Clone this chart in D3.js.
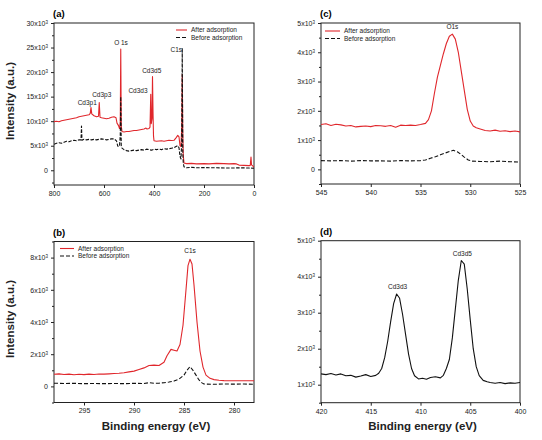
<!DOCTYPE html>
<html><head><meta charset="utf-8">
<script src="https://cdn.jsdelivr.net/npm/d3@7"></script>
<style>body{margin:0;background:#fff}svg{display:block}text{font-family:"Liberation Sans",Arial,sans-serif}</style>
</head><body>
<svg id="chart" width="542" height="440"></svg>
<script>
// ---------- DATA ----------
// Panel (a) survey spectrum: binding energy (eV) / intensity (counts)
const surveyAfterE = [800,790,780,770,760,750,740,730,720,710,700,690,680,670,660,655,652,649,640,630,622,619,616,610,600,590,580,570,560,552,548,542,538,535,533,531,528,520,510,500,490,480,470,460,450,440,432,428,420,416,413,411,408,406,404,402,400,390,380,370,360,350,340,330,320,312,305,300,296,292,289,287,285,283,280,270,250,230,200,180,150,120,100,80,70,60,40,20,15,12,10,5,0];
const surveyAfterI = [9900,10000,9900,10100,10200,10300,10400,10500,10600,10700,10900,11000,11100,11200,11300,11600,12800,11500,11100,10900,11000,13800,10800,10700,10600,10500,10600,10800,10900,10700,9600,9100,8500,9500,24700,9000,7900,7800,7900,7900,8000,8100,8100,8200,8300,8400,8600,8400,8500,8800,15500,9500,10500,19100,12000,7000,6000,5900,5950,6000,5900,6000,6100,6050,6100,6600,7100,6800,5000,4800,9000,19500,8000,3000,1500,1350,1400,1300,1350,1300,1400,1350,1300,1350,1300,1050,1000,950,1000,2700,1100,900,600];
const surveyBeforeE = [800,790,780,770,760,750,740,730,720,710,700,692,690,688,680,670,660,650,640,630,620,610,600,590,580,570,560,550,545,538,535,533,531,528,520,510,500,490,480,470,460,450,440,430,420,410,400,390,380,370,360,350,340,330,320,310,305,300,296,292,289,287,285,283,280,270,250,230,200,150,100,50,20,0];
const surveyBeforeI = [5300,5500,5600,5500,5700,5900,5800,6000,6100,6000,6200,6200,9000,6100,6300,6200,6300,6200,6300,6200,6300,6400,6300,6200,6300,6400,6400,6000,4900,4900,7000,15000,5000,4500,4200,4000,3900,4000,4100,4000,4100,4200,4100,4300,4200,4100,4300,4200,4300,4200,4400,4300,4400,4500,4600,4900,5000,4600,2800,2300,6000,24900,4000,1500,700,500,600,500,550,500,450,500,450,400];
// Panel (b) C1s
const c1sAfterE = [298,297.5,297,296.5,296,295.5,295,294.5,294,293.5,293,292.5,292,291.5,291,290.5,290,289.5,289,288.5,288,287.5,287,286.7,286.3,286,285.7,285.4,285.1,284.8,284.6,284.4,284.2,284,283.7,283.4,283.1,282.8,282.4,282,281.5,281,280,279,278];
const c1sAfterI = [750,780,740,760,720,750,730,760,740,770,760,780,800,820,850,900,950,1050,1150,1300,1320,1300,1500,1900,2300,2250,2200,2600,3800,6000,7500,7900,7600,6300,4000,2200,1200,700,500,420,380,360,350,350,350];
const c1sBeforeE = [298,297,296,295,294,293,292,291,290,289,288.5,288,287.5,287,286.5,286,285.5,285,284.7,284.4,284.1,283.8,283.5,283.2,283,282,281,280,279,278];
const c1sBeforeI = [200,180,190,170,180,170,180,170,190,180,230,190,200,230,270,330,450,700,1000,1230,1000,700,400,220,150,130,150,140,150,130];
// Panel (c) O1s
const o1sAfterE = [545,544.5,544,543.5,543,542.5,542,541.5,541,540.5,540,539.5,539,538.5,538,537.5,537,536.5,536,535.5,535,534.5,534.2,533.9,533.6,533.3,533,532.7,532.4,532.1,531.8,531.5,531.2,530.9,530.6,530.3,530,529.7,529.4,529,528.5,528,527.5,527,526.5,526,525.5,525];
const o1sAfterI = [1530,1560,1500,1540,1520,1480,1500,1450,1470,1480,1460,1500,1490,1470,1500,1440,1510,1500,1510,1500,1530,1570,1700,2000,2600,3150,3550,3950,4300,4550,4620,4450,4000,3350,2700,2050,1650,1480,1420,1380,1330,1310,1340,1300,1320,1290,1310,1280];
const o1sBeforeE = [545,544,543,542,541,540,539,538,537,536,535,534.5,534,533.5,533,532.5,532,531.7,531.3,531,530.6,530.2,529.8,529,528,527,526,525];
const o1sBeforeI = [300,290,300,280,300,290,290,280,300,290,300,320,380,430,500,560,620,650,600,530,420,320,280,270,260,280,260,250];
// Panel (d) Cd3d
const cd3dE = [420,419.5,419,418.5,418,417.5,417,416.5,416,415.5,415,414.5,414.2,413.9,413.6,413.3,413,412.7,412.4,412.1,411.8,411.5,411.2,410.9,410.6,410.2,409.8,409.4,409,408.5,408,407.7,407.4,407.1,406.8,406.5,406.2,405.9,405.6,405.3,405,404.7,404.4,404.1,403.7,403.3,403,402.5,402,401.5,401,400.5,400];
const cd3dI = [1300,1280,1310,1270,1300,1250,1260,1210,1240,1280,1230,1260,1320,1450,1750,2200,2750,3250,3520,3400,2950,2400,1850,1450,1250,1160,1180,1150,1200,1220,1190,1260,1450,1700,2300,3100,3900,4450,4350,3650,2800,2000,1500,1250,1120,1080,1060,1040,1060,1030,1050,1040,1060];

// Ticks
const aXTicks = [800,600,400,200,0];
const aYTicks = [0,5000,10000,15000,20000,25000,30000];
const bXTicks = [295,290,285,280];
const bYTicks = [0,2000,4000,6000,8000];
const cXTicks = [545,540,535,530,525];
const cYTicks = [0,1000,2000,3000,4000,5000];
const dXTicks = [420,415,410,405,400];
const dYTicks = [1000,2000,3000,4000,5000];

// Peak labels [energy, intensity, text]
const aPeaks = [[532,25500,"O 1s"],[311,24000,"C1s"],[409,19900,"Cd3d5"],[464,15800,"Cd3d3"],[609,14900,"Cd3p3"],[667,13300,"Cd3p1"]];
const bPeaks = [[284.4,8300,"C1s"]];
const cPeaks = [[531.8,4800,"O1s"]];
const dPeaks = [[412.3,3650,"Cd3d3"],[405.8,4580,"Cd3d5"]];

const seriesNames = ["After adsorption","Before adsorption"];
const RED = "#e0272c", BLK = "#111";

// ---------- DRAW ----------
const svg = d3.select("#chart");
const zip = (e,i) => e.map((v,k)=>[v,i[k]]);

function fmtY(g){
  g.selectAll(".tick text").each(function(d){
    const t = d3.select(this); t.text(null);
    if(d===0){ t.text("0"); return; }
    t.append("tspan").text((d/1000)+"x10");
    t.append("tspan").text("3").attr("dy","-0.45em").attr("font-size","4.5px");
  });
}

function panel(o){
  const x = d3.scaleLinear().domain(o.xd).range([o.l,o.r]);
  const y = d3.scaleLinear().domain(o.yd).range([o.b,o.t]);
  const g = svg.append("g");
  const xs = o.xt[1]-o.xt[0], ys = o.yt[1]-o.yt[0];
  const xMinor = d3.range(o.xt[0]-xs/2*3, o.xt[o.xt.length-1]+xs, xs).map(v=>v+xs/2).filter(v=> v<=Math.max(...o.xd) && v>=Math.min(...o.xd) && !o.xt.includes(v));
  const yMinor = d3.range(o.yt[0]-ys, o.yt[o.yt.length-1]+ys, ys).map(v=>v+ys/2).filter(v=> v<=o.yd[1] && v>=o.yd[0]);
  g.append("g").attr("transform",`translate(0,${o.b})`)
    .call(d3.axisBottom(x).tickValues(xMinor).tickSize(2).tickFormat(""))
    .call(s=>s.select(".domain").remove());
  g.append("g").attr("transform",`translate(${o.l},0)`)
    .call(d3.axisLeft(y).tickValues(yMinor).tickSize(2).tickFormat(""))
    .call(s=>s.select(".domain").remove());
  const xa = g.append("g").attr("transform",`translate(0,${o.b})`)
    .call(d3.axisBottom(x).tickValues(o.xt).tickSize(3).tickPadding(3).tickFormat(d3.format("d")));
  const ya = g.append("g").attr("transform",`translate(${o.l},0)`)
    .call(d3.axisLeft(y).tickValues(o.yt).tickSize(3).tickPadding(3)).call(fmtY);
  [xa,ya].forEach(a=>{a.selectAll("text").attr("font-size","7px").attr("fill","#222").attr("font-family","Liberation Sans, Arial");
    a.select(".domain").remove(); a.selectAll("line").attr("stroke","#222");});
  g.selectAll(".tick line").attr("stroke","#222");
  g.append("rect").attr("x",o.l).attr("y",o.t).attr("width",o.r-o.l).attr("height",o.b-o.t)
    .attr("fill","none").attr("stroke","#222").attr("stroke-width",1);
  const cid = "clip"+o.id;
  svg.append("clipPath").attr("id",cid).append("rect").attr("x",o.l).attr("y",o.t).attr("width",o.r-o.l).attr("height",o.b-o.t);
  const line = d3.line().x(d=>x(d[0])).y(d=>y(d[1]));
  o.series.forEach(s=>{
    g.append("path").attr("clip-path",`url(#${cid})`).datum(s.data).attr("d",line)
      .attr("fill","none").attr("stroke",s.color).attr("stroke-width",s.w||1.1)
      .attr("stroke-dasharray",s.dash||null).attr("stroke-linejoin","round");
  });
  o.peaks.forEach(p=>{
    g.append("text").attr("x",x(p[0])).attr("y",y(p[1])).attr("text-anchor","middle")
      .attr("font-size","6.5px").attr("fill","#222").text(p[2]);
  });
  g.append("text").attr("x",o.l-1).attr("y",o.t-6).attr("font-family","Liberation Serif, Times New Roman, serif")
    .attr("font-weight","bold").attr("font-size","9.5px").text(o.label);
  if(o.leg){
    const [lx,ly,len] = o.leg;
    [[RED,null],[BLK,"4,2"]].forEach((c,i)=>{
      g.append("line").attr("x1",lx).attr("x2",lx+len).attr("y1",ly+i*7.5).attr("y2",ly+i*7.5)
        .attr("stroke",c[0]).attr("stroke-width",1.1).attr("stroke-dasharray",c[1]);
      g.append("text").attr("x",lx+len+4).attr("y",ly+i*7.5+2.3).attr("font-size","6.5px").attr("fill","#222").text(seriesNames[i]);
    });
  }
  if(o.ytitle) g.append("text").attr("transform",`translate(14,${(o.t+o.b)/2 - 3}) rotate(-90)`)
    .attr("text-anchor","middle").attr("font-weight","bold").attr("font-size","11.5px").attr("fill","#222").text("Intensity (a.u.)");
  if(o.xtitle) g.append("text").attr("x",(o.l+o.r)/2+2).attr("y",430)
    .attr("text-anchor","middle").attr("font-weight","bold").attr("font-size","11.5px").attr("fill","#222").text("Binding energy (eV)");
}

panel({id:"a",l:54,r:254,t:23,b:185,xd:[800,0],yd:[-3000,30000],xt:aXTicks,yt:aYTicks,label:"(a)",
  series:[{data:zip(surveyAfterE,surveyAfterI),color:RED},{data:zip(surveyBeforeE,surveyBeforeI),color:BLK,dash:"3.5,1.5"}],
  peaks:aPeaks,leg:[176,30,11],ytitle:true});
panel({id:"c",l:321,r:520,t:23,b:184,xd:[545,525],yd:[-500,5000],xt:cXTicks,yt:cYTicks,label:"(c)",
  series:[{data:zip(o1sAfterE,o1sAfterI),color:RED},{data:zip(o1sBeforeE,o1sBeforeI),color:BLK,dash:"4,2"}],
  peaks:cPeaks,leg:[325,31,15]});
panel({id:"b",l:54,r:254,t:241.5,b:402.5,xd:[298,278],yd:[-1000,9000],xt:bXTicks,yt:bYTicks,label:"(b)",
  series:[{data:zip(c1sAfterE,c1sAfterI),color:RED},{data:zip(c1sBeforeE,c1sBeforeI),color:BLK,dash:"4,2"}],
  peaks:bPeaks,leg:[60,248.5,14],ytitle:true,xtitle:true});
panel({id:"d",l:321,r:520,t:240.7,b:402.7,xd:[420,400],yd:[500,5000],xt:dXTicks,yt:dYTicks,label:"(d)",
  series:[{data:zip(cd3dE,cd3dI),color:BLK}],
  peaks:dPeaks,xtitle:true});
</script>
</body></html>
